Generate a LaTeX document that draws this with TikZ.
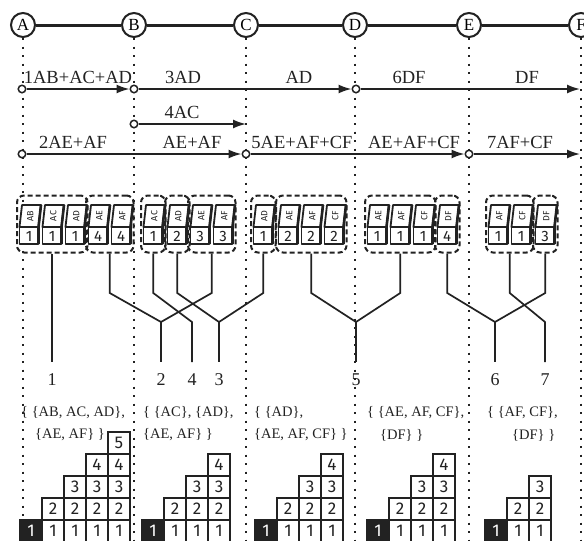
\documentclass[tikz,border=0pt]{standalone}
\usepackage{fontspec}
\setmainfont{Liberation Serif}
\newfontfamily\tilefont{Fira Sans}
\usetikzlibrary{arrows.meta}
\definecolor{ink}{HTML}{222222}
\tikzset{
  station/.style={circle, draw=ink, line width=2pt, fill=white, minimum size=24pt, inner sep=0pt, font=\fontsize{17}{17}\selectfont},
  dotline/.style={draw=ink, line width=1.6pt, dash pattern=on 2pt off 6.5pt},
  src/.style={circle, draw=ink, line width=1.5pt, fill=white, minimum size=7.5pt, inner sep=0pt},
  flow/.style={draw=ink, line width=1.7pt, -{Latex[length=13pt,width=9pt]}},
  flowlabel/.style={font=\fontsize{18.5}{18.5}\selectfont, inner sep=0pt, text=ink},
  grp/.style={draw=ink, line width=2pt, dash pattern=on 5pt off 3pt, rounded corners=7pt, inner sep=0pt},
  tileline/.style={draw=ink, line width=1.8pt, fill=white, line join=round},
  tiledigit/.style={font=\tilefont\fontsize{15}{15}\selectfont, inner sep=0pt, text=ink},
  tilelabel/.style={font=\tilefont\fontsize{9}{9}\selectfont, inner sep=0pt, rotate=90, text=ink},
  tree/.style={draw=ink, line width=1.7pt},
  treelabel/.style={font=\fontsize{18}{18}\selectfont, inner sep=0pt, text=ink},
  setlabel/.style={font=\fontsize{14.5}{14.5}\selectfont, inner sep=0pt, anchor=west, text=ink},
  cell/.style={draw=ink, line width=2.2pt, fill=white, minimum size=22pt, inner sep=0pt, font=\tilefont\fontsize{17}{17}\selectfont, text=ink},
  blackcell/.style={cell, fill=ink, text=white},
}
\newcommand\mytile[4]{%
  \draw[tileline] (#2-9.5,227) rectangle (#2+9.5,244);
  \draw[tileline] (#2-9.5,227) -- (#2-7,205) -- (#2+12,205) -- (#2+9.5,227) -- cycle;
  \draw[ink, line width=2.6pt] (#2+12,205) -- (#2+9.5,227) -- (#2+9.5,244);
  \node[tiledigit] (#1d) at (#2,236) {#4};
  \node[tilelabel] (#1l) at (#2+1.2,216) {#3};
}
\newcommand\stackgrid[3]{%
  \node[blackcell] (s#1-0) at (#2+11,531) {1};
  \foreach \c in {1,...,#3} {
    \pgfmathtruncatemacro\hh{\c+1}
    \foreach \r in {1,...,\hh} {
      \node[cell] (s#1-\c-\r) at ({#2+22*\c+11},{531-22*(\r-1)}) {\r};
    }
  }
}
\begin{document}
\begin{tikzpicture}[x=1pt,y=-1pt]
\useasboundingbox (0,0) rectangle (584,541);
\clip (0,0) rectangle (584,541);
\fill[white] (0,0) rectangle (584,541);

% stations
\node[station] (A) at (23,25) {A};
\node[station] (B) at (134,25) {B};
\node[station] (C) at (246,25) {C};
\node[station] (D) at (355,25) {D};
\node[station] (E) at (469,25) {E};
\node[station] (F) at (581,25) {F};
\foreach \s in {A,B,C,D,E,F} {
  \coordinate (\s bot) at (\s |- 0,545);
  \draw[dotline] (\s.south) -- (\s bot);
}
\draw[draw=ink, line width=3pt] (A) -- (B) (B) -- (C) (C) -- (D) (D) -- (E) (E) -- (F);

% flow rows
\node[src] (r1a) at (22,89) {};
\node[src] (r1b) at (134,89) {};
\node[src] (r1d) at (356,89) {};
\coordinate (r1f) at (580,89);
\node[src] (r2b) at (134,124) {};
\coordinate (r2c) at (246,124);
\node[src] (r3a) at (22,154) {};
\node[src] (r3c) at (246,154) {};
\node[src] (r3e) at (469,154) {};
\coordinate (r3f) at (580,154);
\draw[flow] (r1a) -- (r1b);
\draw[flow] (r1b) -- (r1d);
\draw[flow] (r1d) -- (r1f);
\draw[flow] (r2b) -- (r2c);
\draw[flow] (r3a) -- (r3c);
\draw[flow] (r3c) -- (r3e);
\draw[flow] (r3e) -- (r3f);

\node[flowlabel] (f1) at (78,77) {1AB+AC+AD};
\node[flowlabel] (f3) at (183,77) {3AD};
\node[flowlabel] (f3b) at (299,77) {AD};
\node[flowlabel] (f6) at (409,77) {6DF};
\node[flowlabel] (f6b) at (527,77) {DF};
\node[flowlabel] (f4) at (182,112) {4AC};
\node[flowlabel] (f2) at (73,142) {2AE+AF};
\node[flowlabel] (f2b) at (192,142) {AE+AF};
\node[flowlabel] (f5) at (302,142) {5AE+AF+CF};
\node[flowlabel] (f5b) at (414,142) {AE+AF+CF};
\node[flowlabel] (f7) at (520,142) {7AF+CF};

% group boxes
\node[grp, minimum width=70.5pt, minimum height=57pt] (g1a) at (52.25,224) {};
\node[grp, minimum width=47.5pt, minimum height=57pt] (g1b) at (109.75,224) {};
\node[grp, minimum width=24.5pt, minimum height=57pt] (g2a) at (153.25,224) {};
\node[grp, minimum width=24.5pt, minimum height=57pt] (g2b) at (177.25,224) {};
\node[grp, minimum width=47.5pt, minimum height=57pt] (g2c) at (211.75,224) {};
\node[grp, minimum width=24.5pt, minimum height=57pt] (g3a) at (263.25,224) {};
\node[grp, minimum width=70.5pt, minimum height=57pt] (g3b) at (311.25,224) {};
\node[grp, minimum width=70.5pt, minimum height=57pt] (g4a) at (400.25,224) {};
\node[grp, minimum width=24.5pt, minimum height=57pt] (g4b) at (447.25,224) {};
\node[grp, minimum width=47.5pt, minimum height=57pt] (g5a) at (509.75,224) {};
\node[grp, minimum width=24.5pt, minimum height=57pt] (g5b) at (545.25,224) {};

% tiles
\mytile{t1}{29}{AB}{1}
\mytile{t2}{52}{AC}{1}
\mytile{t3}{75}{AD}{1}
\mytile{t4}{98}{AE}{4}
\mytile{t5}{121}{AF}{4}
\mytile{t6}{153}{AC}{1}
\mytile{t7}{177}{AD}{2}
\mytile{t8}{200}{AE}{3}
\mytile{t9}{223}{AF}{3}
\mytile{t10}{263}{AD}{1}
\mytile{t11}{288}{AE}{2}
\mytile{t12}{311}{AF}{2}
\mytile{t13}{334}{CF}{2}
\mytile{t14}{377}{AE}{1}
\mytile{t15}{400}{AF}{1}
\mytile{t16}{423}{CF}{1}
\mytile{t17}{447}{DF}{4}
\mytile{t18}{498}{AF}{1}
\mytile{t19}{521}{CF}{1}
\mytile{t20}{545}{DF}{3}

% tree
\coordinate (bend) at (0,293);
\coordinate (bot) at (0,362);
\coordinate (J2) at (161,322);
\coordinate (J4) at (192,322);
\coordinate (J3) at (219,322);
\coordinate (J5) at (356,322);
\coordinate (J6) at (495,322);
\coordinate (J7) at (545,322);
\draw[tree] (g1a.south) -- (g1a.south |- bot);
\draw[tree] (g1b.south) -- (g1b.south |- bend) -- (J2);
\draw[tree] (g2c.south) -- (g2c.south |- bend) -- (J2);
\draw[tree] (J2) -- (J2 |- bot);
\draw[tree] (g2a.south) -- (g2a.south |- bend) -- (J4) -- (J4 |- bot);
\draw[tree] (g2b.south) -- (g2b.south |- bend) -- (J3);
\draw[tree] (g3a.south) -- (g3a.south |- bend) -- (J3);
\draw[tree] (J3) -- (J3 |- bot);
\draw[tree] (g3b.south) -- (g3b.south |- bend) -- (J5);
\draw[tree] (g4a.south) -- (g4a.south |- bend) -- (J5);
\draw[tree] (J5) -- (J5 |- bot);
\draw[tree] (g4b.south) -- (g4b.south |- bend) -- (J6);
\draw[tree] (g5b.south) -- (g5b.south |- bend) -- (J6);
\draw[tree] (J6) -- (J6 |- bot);
\draw[tree] (g5a.south) -- (g5a.south |- bend) -- (J7) -- (J7 |- bot);

\node[treelabel] (n1) at (52,380) {1};
\node[treelabel] (n2) at (161,380) {2};
\node[treelabel] (n4) at (192,380) {4};
\node[treelabel] (n3) at (219,380) {3};
\node[treelabel] (n5) at (356,380) {5};
\node[treelabel] (n6) at (495,380) {6};
\node[treelabel] (n7) at (545,380) {7};

% set labels
\node[setlabel] (l1a) at (21,413) {\{ \{AB, AC, AD\},};
\node[setlabel] (l1b) at (35,435) {\{AE, AF\} \}};
\node[setlabel] (l2a) at (143,413) {\{ \{AC\}, \{AD\},};
\node[setlabel] (l2b) at (143,435) {\{AE, AF\} \}};
\node[setlabel] (l3a) at (254,413) {\{ \{AD\},};
\node[setlabel] (l3b) at (254,435) {\{AE, AF, CF\} \}};
\node[setlabel] (l4a) at (367,413) {\{ \{AE, AF, CF\},};
\node[setlabel] (l4b) at (380,435) {\{DF\} \}};
\node[setlabel] (l5a) at (487,413) {\{ \{AF, CF\},};
\node[setlabel] (l5b) at (512,435) {\{DF\} \}};

% stacks
\stackgrid{1}{20}{4}
\stackgrid{2}{142}{3}
\stackgrid{3}{255}{3}
\stackgrid{4}{367}{3}
\stackgrid{5}{485}{2}
\end{tikzpicture}
\end{document}
